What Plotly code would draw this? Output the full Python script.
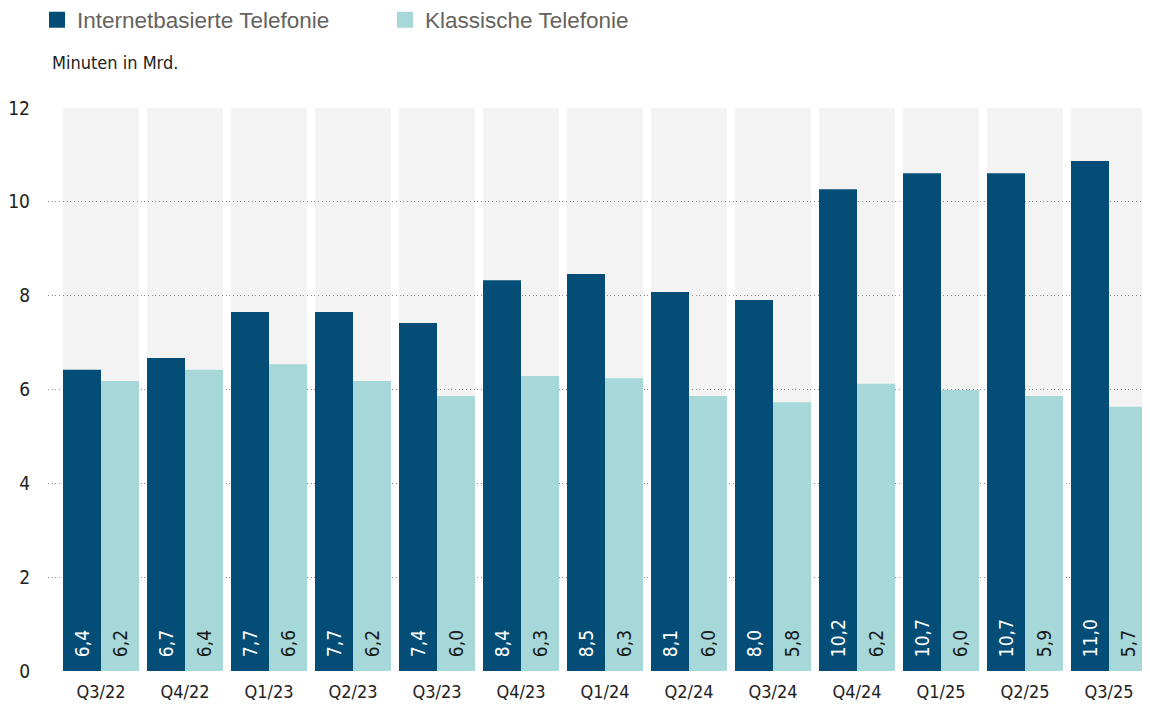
import plotly.graph_objects as go

categories = ["Q3/22", "Q4/22", "Q1/23", "Q2/23", "Q3/23", "Q4/23", "Q1/24",
              "Q2/24", "Q3/24", "Q4/24", "Q1/25", "Q2/25", "Q3/25"]
internet_values = [6.42, 6.67, 7.65, 7.65, 7.42, 8.33, 8.46, 8.08, 7.91, 10.27, 10.61, 10.61, 10.87]
internet_labels = ["6,4", "6,7", "7,7", "7,7", "7,4", "8,4", "8,5", "8,1", "8,0", "10,2", "10,7", "10,7", "11,0"]
klassisch_values = [6.18, 6.42, 6.54, 6.18, 5.86, 6.29, 6.24, 5.86, 5.73, 6.12, 5.99, 5.86, 5.63]
klassisch_labels = ["6,2", "6,4", "6,6", "6,2", "6,0", "6,3", "6,3", "6,0", "5,8", "6,2", "6,0", "5,9", "5,7"]
y_ticks = [0, 2, 4, 6, 8, 10, 12]

DARK = "#034d77"
LIGHT = "#a6d7d9"
NARROW = "Liberation Sans Narrow, DejaVu Sans Condensed, Arial Narrow, sans-serif"

# page body has an 8px margin: figure is sized/placed to compensate
OFF = 8
W, H = 1150 - OFF, 706 - OFF
ML, MR, MT, MB = 48 - OFF, 0, 108 - OFF, 35
plot_w = W - ML - MR
plot_h = H - MT - MB

fig = go.Figure()
fig.add_trace(go.Bar(
    x=categories, y=internet_values, name="Internetbasierte Telefonie",
    marker=dict(color=DARK, line=dict(width=0)),
    text=internet_labels, texttemplate="\u00a0\u00a0%{text}",
    textposition="inside", insidetextanchor="start",
    textangle=-90, constraintext="none",
    textfont=dict(family=NARROW, size=19, color="white"),
    showlegend=False, hoverinfo="skip"))
fig.add_trace(go.Bar(
    x=categories, y=klassisch_values, name="Klassische Telefonie",
    marker=dict(color=LIGHT, line=dict(width=0)),
    text=klassisch_labels, texttemplate="\u00a0\u00a0%{text}",
    textposition="inside", insidetextanchor="start",
    textangle=-90, constraintext="none",
    textfont=dict(family=NARROW, size=19, color="#1a1a1a"),
    showlegend=False, hoverinfo="skip"))

# legend-only entries with square symbols
for nm, col in [("Internetbasierte Telefonie", DARK), ("Klassische Telefonie", LIGHT)]:
    fig.add_trace(go.Scatter(x=[None], y=[None], mode="markers", name=nm,
                             marker=dict(symbol="square", size=16, color=col)))

# gray background bands per category
band_half = 0.452
for i, _ in enumerate(categories):
    fig.add_shape(type="rect", xref="x", yref="y",
                  x0=i - band_half, x1=i + band_half, y0=0, y1=max(y_ticks),
                  fillcolor="#f3f3f3", line=dict(width=0), layer="below")

fig.add_annotation(text="Minuten in Mrd.", xref="paper", yref="paper",
                   x=0, y=1 + 46 / plot_h, xanchor="left", yanchor="middle",
                   xshift=2, showarrow=False,
                   font=dict(family=NARROW, size=18, color="#222222"))

fig.update_layout(
    width=W, height=H,
    margin=dict(l=ML, r=MR, t=MT, b=MB, autoexpand=False),
    paper_bgcolor="white", plot_bgcolor="white",
    barmode="group", bargap=0.095, bargroupgap=0,
    legend=dict(orientation="h", x=-11 / plot_w, xanchor="left",
                y=1 + 88 / plot_h, yanchor="middle",
                font=dict(family="Liberation Sans, Arial, sans-serif", size=22.5, color="#66625c"),
                entrywidth=303, entrywidthmode="pixels",
                itemsizing="trace", bgcolor="rgba(0,0,0,0)"),
    xaxis=dict(type="category", range=[-0.631, 12.488], showgrid=False,
               showline=False, ticks="", ticklabelstandoff=8,
               tickfont=dict(family=NARROW, size=18, color="#222222")),
    yaxis=dict(range=[0, 12], tickvals=y_ticks, showgrid=True,
               gridcolor="#8a8a8a", griddash="1px,2.7px", gridwidth=1,
               zeroline=False, showline=False, ticks="", ticklabelstandoff=17,
               tickfont=dict(family=NARROW, size=19, color="#222222")),
)

fig.write_html("out.html")
